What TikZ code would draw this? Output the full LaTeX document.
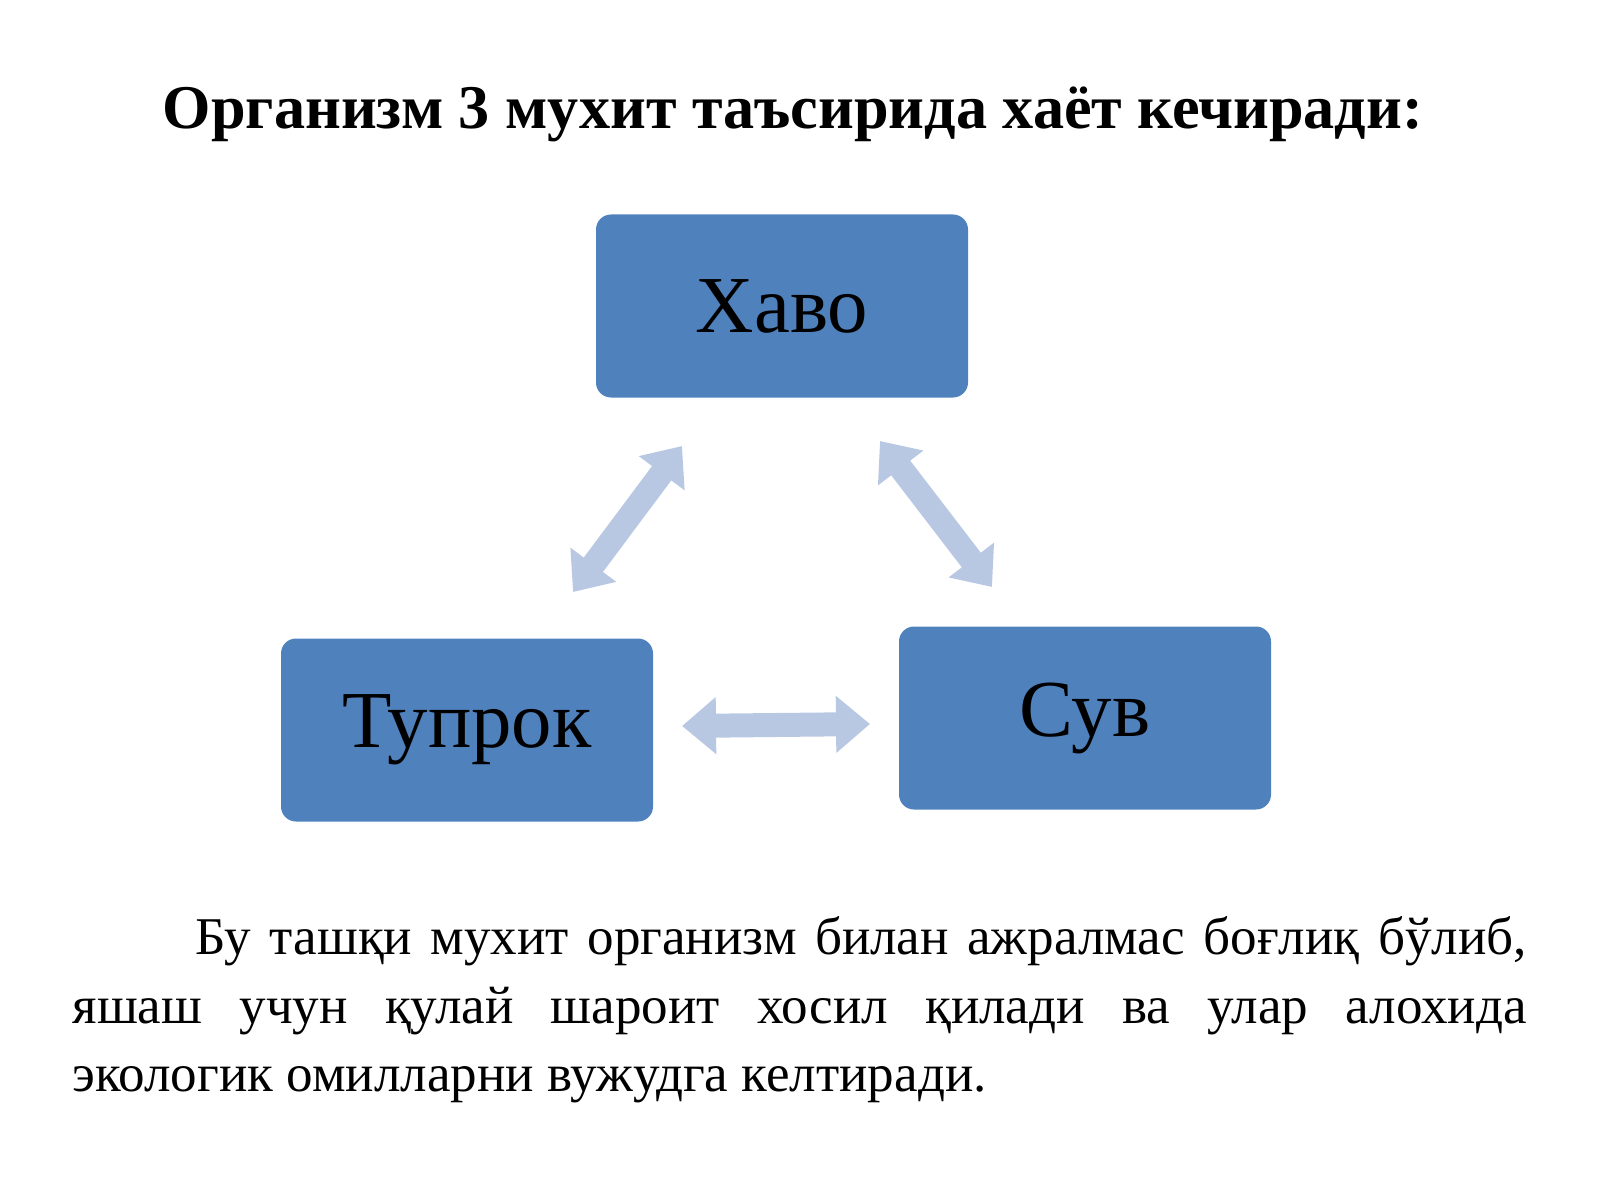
\documentclass[tikz,border=0pt]{standalone}
\usepackage{fontspec}
\setmainfont{Liberation Serif}
\usetikzlibrary{arrows.meta}
\definecolor{boxblue}{HTML}{4F81BD}
\definecolor{arrblue}{HTML}{B9C8E2}
\begin{document}
\begin{tikzpicture}
\useasboundingbox (0,0) rectangle (16,12);
\tikzset{
 box/.style={fill=boxblue, rounded corners=0.15cm, minimum width=3.72cm, minimum height=1.83cm, font=\fontsize{23}{27}\selectfont, text=black},
 dbl/.style={arrblue, line width=0.24cm, {Triangle[width=0.55cm,length=0.34cm]}-{Triangle[width=0.55cm,length=0.34cm]}}
}
\node (title) at (7.93,10.86) {\fontsize{17.7}{21}\selectfont\bfseries Организм 3 мухит таъсирида хаёт кечиради:};
\node[box] (havo) at (7.82,8.94) {Хаво};
\node[box] (tuprok) at (4.67,4.70) {Тупрок};
\node[box] (suv) at (10.85,4.82) {Сув};
\coordinate (a1) at (5.73,6.08);
\coordinate (a2) at (6.82,7.54);
\coordinate (b1) at (8.80,7.59);
\coordinate (b2) at (9.92,6.13);
\coordinate (c1) at (6.82,4.74);
\coordinate (c2) at (8.70,4.76);
\draw[dbl] (a1) -- (a2);
\draw[dbl] (b1) -- (b2);
\draw[dbl] (c1) -- (c2);
\node[anchor=north west, text width=14.54cm, align=justify, inner sep=0pt, font=\fontsize{15.1}{19.5}\selectfont] (para) at (0.72,2.84)
{\hspace*{1.23cm}Бу ташқи мухит организм билан ажралмас боғлиқ бўлиб,\linebreak яшаш учун қулай шароит хосил қилади ва улар алохида\linebreak экологик омилларни вужудга келтиради.};
\end{tikzpicture}
\end{document}
